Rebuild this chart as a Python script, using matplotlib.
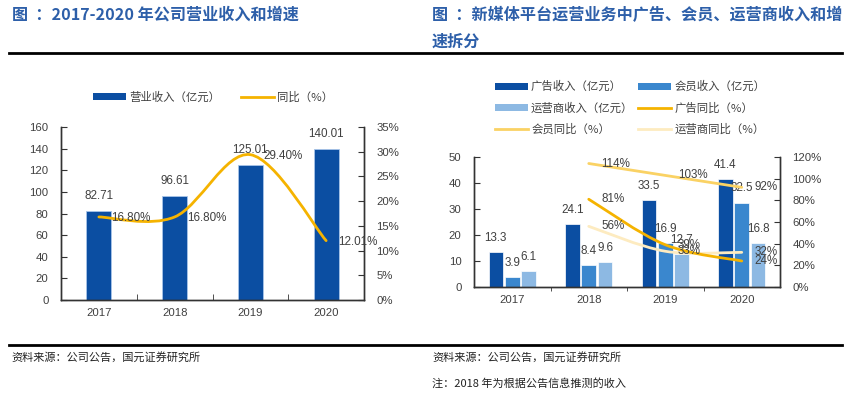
import numpy as np
import matplotlib
matplotlib.use("Agg")
import matplotlib.pyplot as plt
from matplotlib.path import Path
from matplotlib.patches import PathPatch, Patch
from matplotlib.lines import Line2D

plt.rcParams['font.family'] = ['Liberation Sans', 'Noto Sans CJK SC', 'DejaVu Sans']
CJK = ['Noto Sans CJK SC', 'DejaVu Sans']

# data - left chart
years = ['2017', '2018', '2019', '2020']
revenue = [82.71, 96.61, 125.01, 140.01]
rev_growth = [16.80, 16.80, 29.40, 12.01]
rev_growth_lbl = ['16.80%', '16.80%', '29.40%', '12.01%']

# data - right chart
ad_rev = [13.3, 24.1, 33.5, 41.4]
vip_rev = [3.9, 8.4, 16.9, 32.5]
op_rev = [6.1, 9.6, 12.7, 16.8]
growth_years = [1, 2, 3]  # 2018-2020
ad_growth = [81, 39, 24]
vip_growth = [114, 103, 92]
op_growth = [56, 33, 32]

BLUE = '#0B4EA2'
BLUE2 = '#3A87CE'
BLUE3 = '#8DB9E3'
GOLD = '#F5B300'
GOLD2 = '#FAD264'
GOLD3 = '#FDEBC0'
TXT = '#404040'
TITLE = '#2D5FA9'
TICK_FS = 8.2
LBL_FS = 8.4


def smooth_path(xs, ys):
    # excel-like smoothed line: cubic bezier through the points
    pts = np.column_stack([xs, ys]).astype(float)
    n = len(pts)
    verts = [pts[0]]
    codes = [Path.MOVETO]
    for i in range(n - 1):
        p0 = pts[i - 1] if i > 0 else pts[i]
        p1, p2 = pts[i], pts[i + 1]
        p3 = pts[i + 2] if i + 2 < n else pts[i + 1]
        c1 = p1 + (p2 - p0) / 6
        c2 = p2 - (p3 - p1) / 6
        verts += [c1, c2, p2]
        codes += [Path.CURVE4] * 3
    return Path(verts, codes)


def style_axes(ax, ax2):
    for a in (ax, ax2):
        a.spines['top'].set_visible(False)
        for s in a.spines.values():
            s.set_color('#333333')
            s.set_linewidth(1.0)
    ax.tick_params(axis='y', direction='in', length=4, labelsize=TICK_FS,
                   labelcolor=TXT, pad=9, color='#333333')
    ax2.tick_params(axis='y', direction='in', length=4, labelsize=TICK_FS,
                    labelcolor=TXT, pad=9, color='#333333')
    ax.set_xlim(-0.5, 3.5)
    ax.set_xticks(range(4))
    ax.set_xticklabels(years)
    ax.set_xticks([0.5, 1.5, 2.5], minor=True)
    ax.tick_params(axis='x', which='major', length=0, labelsize=TICK_FS,
                   labelcolor=TXT, pad=6)
    ax.tick_params(axis='x', which='minor', direction='in', length=4,
                   color='#333333')


fig = plt.figure(figsize=(8.55, 4.01), dpi=100)

# ---------- left chart ----------
ax = fig.add_axes([61 / 855, 1 - 300 / 401, 303 / 855, 173 / 401])
ax2 = ax.twinx()
x = np.arange(len(years))
bars = ax.bar(x, revenue, width=0.33, color=BLUE, edgecolor='#A9C4E8',
              linewidth=0.6, zorder=2)
ax.bar_label(bars, labels=[f'{v:.2f}' for v in revenue], padding=6,
             fontsize=LBL_FS, color=TXT)
ax.set_ylim(0, 160)
ax.set_yticks(range(0, 161, 20))
ax2.set_ylim(0, 35)
ax2.set_yticks(range(0, 36, 5))
ax2.set_yticklabels([f'{v}%' for v in range(0, 36, 5)])
ax2.add_patch(PathPatch(smooth_path(x, rev_growth), fill=False, edgecolor=GOLD,
                        linewidth=2, capstyle='round', zorder=3))
for xi, yi, lb in zip(x, rev_growth, rev_growth_lbl):
    ax2.annotate(lb, (xi, yi), xytext=(9, -1), textcoords='offset points',
                 ha='left', va='center', fontsize=LBL_FS, color=TXT)
style_axes(ax, ax2)

fig.legend(handles=[Patch(facecolor=BLUE, edgecolor='none'),
                    Line2D([], [], color=GOLD, lw=2)],
           labels=['营业收入（亿元）', '同比（%）'],
           loc='center', bbox_to_anchor=(213 / 855, 1 - 97 / 401), ncol=2,
           frameon=False, prop={'family': CJK, 'size': 8.2},
           handlelength=2.9, handleheight=0.6, handletextpad=0.3,
           columnspacing=1.8, labelcolor=TXT)

# ---------- right chart ----------
bx = fig.add_axes([474 / 855, 1 - 287 / 401, 306 / 855, 130 / 401])
bx2 = bx.twinx()
off, w = 0.215, 0.19
b1 = bx.bar(x - off, ad_rev, width=w, color=BLUE, edgecolor='white', linewidth=0.5, zorder=2)
b2 = bx.bar(x, vip_rev, width=w, color=BLUE2, edgecolor='white', linewidth=0.5, zorder=2)
b3 = bx.bar(x + off, op_rev, width=w, color=BLUE3, edgecolor='white', linewidth=0.5, zorder=2)
for b, vals in ((b1, ad_rev), (b2, vip_rev), (b3, op_rev)):
    bx.bar_label(b, labels=[f'{v:.1f}' for v in vals], padding=6,
                 fontsize=LBL_FS, color=TXT)
bx.set_ylim(0, 50)
bx.set_yticks(range(0, 51, 10))
bx2.set_ylim(0, 120)
bx2.set_yticks(range(0, 121, 20))
bx2.set_yticklabels([f'{v}%' for v in range(0, 121, 20)])
for vals, col in ((vip_growth, GOLD2), (op_growth, GOLD3), (ad_growth, GOLD)):
    bx2.add_patch(PathPatch(smooth_path(growth_years, vals), fill=False,
                            edgecolor=col, linewidth=2, capstyle='round', zorder=3))
for vals in (vip_growth, ad_growth, op_growth):
    for xi, yi in zip(growth_years, vals):
        bx2.annotate(f'{yi}%', (xi, yi), xytext=(9, 0), textcoords='offset points',
                     ha='left', va='center', fontsize=LBL_FS, color=TXT)
style_axes(bx, bx2)
bx.tick_params(axis='x', which='minor', direction='out', length=3)

fig.legend(handles=[Patch(facecolor=BLUE, edgecolor='none'),
                    Patch(facecolor=BLUE3, edgecolor='none'),
                    Line2D([], [], color=GOLD2, lw=2),
                    Patch(facecolor=BLUE2, edgecolor='none'),
                    Line2D([], [], color=GOLD, lw=2),
                    Line2D([], [], color=GOLD3, lw=2)],
           labels=['广告收入（亿元）', '运营商收入（亿元）', '会员同比（%）',
                   '会员收入（亿元）', '广告同比（%）', '运营商同比（%）'],
           loc='center', bbox_to_anchor=(630 / 855, 1 - 108 / 401), ncol=2,
           frameon=False, prop={'family': CJK, 'size': 8.2},
           handlelength=2.9, handleheight=0.6, handletextpad=0.3,
           columnspacing=0.4, labelspacing=0.9, labelcolor=TXT)

# ---------- titles, rules, sources ----------
fig.text(12 / 855, 1 - 15 / 401, '图  ：2017-2020 年公司营业收入和增速', family=CJK,
         fontsize=11.6, fontweight='bold', color=TITLE, va='center', ha='left')
fig.text(432 / 855, 1 - 15 / 401, '图  ：新媒体平台运营业务中广告、会员、运营商收入和增',
         family=CJK, fontsize=11.6, fontweight='bold', color=TITLE, va='center', ha='left')
fig.text(432 / 855, 1 - 42 / 401, '速拆分', family=CJK, fontsize=11.6,
         fontweight='bold', color=TITLE, va='center', ha='left')
fig.add_artist(Line2D([9 / 855, 842 / 855], [1 - 53 / 401] * 2, color='black', lw=2))
fig.add_artist(Line2D([9 / 855, 842 / 855], [1 - 345 / 401] * 2, color='black', lw=2))
fig.text(11 / 855, 1 - 357 / 401, '资料来源：公司公告，国元证券研究所', family=CJK,
         fontsize=8, color='#222222', va='center', ha='left')
fig.text(432 / 855, 1 - 357 / 401, '资料来源：公司公告，国元证券研究所', family=CJK,
         fontsize=8, color='#222222', va='center', ha='left')
fig.text(432 / 855, 1 - 383 / 401, '注：2018 年为根据公告信息推测的收入', family=CJK,
         fontsize=8, color='#222222', va='center', ha='left')

fig.savefig('out.png', dpi=100)
